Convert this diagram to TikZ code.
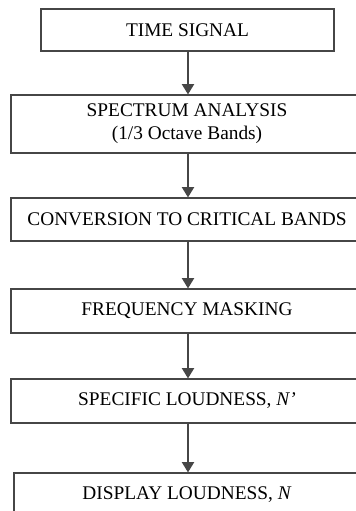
\documentclass[tikz,border=0pt]{standalone}
\usepackage{fontspec}
\setmainfont{Liberation Serif}
\usepackage{tikz}
\usetikzlibrary{arrows.meta}
\definecolor{boxgray}{RGB}{70, 70, 70}

\begin{document}
\begin{tikzpicture}[x=0.6pt, y=-0.6pt, font=\fontsize{11.6}{13.8}\selectfont,
  stage/.style={draw=boxgray, line width=0.75pt, rectangle, align=center, inner sep=0pt},
  flow/.style={-{Triangle[length=6.2pt, width=7.4pt]}, draw=boxgray, fill=black, line width=0.75pt}]
\useasboundingbox (0,0) rectangle (356,511);
\clip (0,0) rectangle (356,511);

% Stages
\node[stage, minimum width=175.8pt, minimum height=25.2pt] (time) at (187.5,30) {TIME SIGNAL};
\node[stage, minimum width=211.2pt, minimum height=34.8pt] (spec) at (187,124) {\raisebox{-1.2pt}{SPECTRUM ANALYSIS}\\\raisebox{-1.2pt}{(1/3 Octave Bands)}};
\node[stage, minimum width=211.2pt, minimum height=25.8pt] (crit) at (187,219.5) {CONVERSION TO CRITICAL BANDS};
\node[stage, minimum width=211.2pt, minimum height=26.4pt] (mask) at (187,311) {FREQUENCY MASKING};
\node[stage, minimum width=211.2pt, minimum height=26.4pt] (spload) at (187,401) {SPECIFIC LOUDNESS, \textit{N’}};
\node[stage, minimum width=207.6pt, minimum height=26.4pt] (disp) at (187,495) {DISPLAY LOUDNESS, \textit{N}};

% Arrows
\draw[flow] (time.south -| 188,0) -- (spec.north -| 188,0);
\draw[flow] (spec.south -| 188,0) -- (crit.north -| 188,0);
\draw[flow] (crit.south -| 188,0) -- (mask.north -| 188,0);
\draw[flow] (mask.south -| 188,0) -- (spload.north -| 188,0);
\draw[flow] (spload.south -| 188,0) -- (disp.north -| 188,0);

\end{tikzpicture}
\end{document}
